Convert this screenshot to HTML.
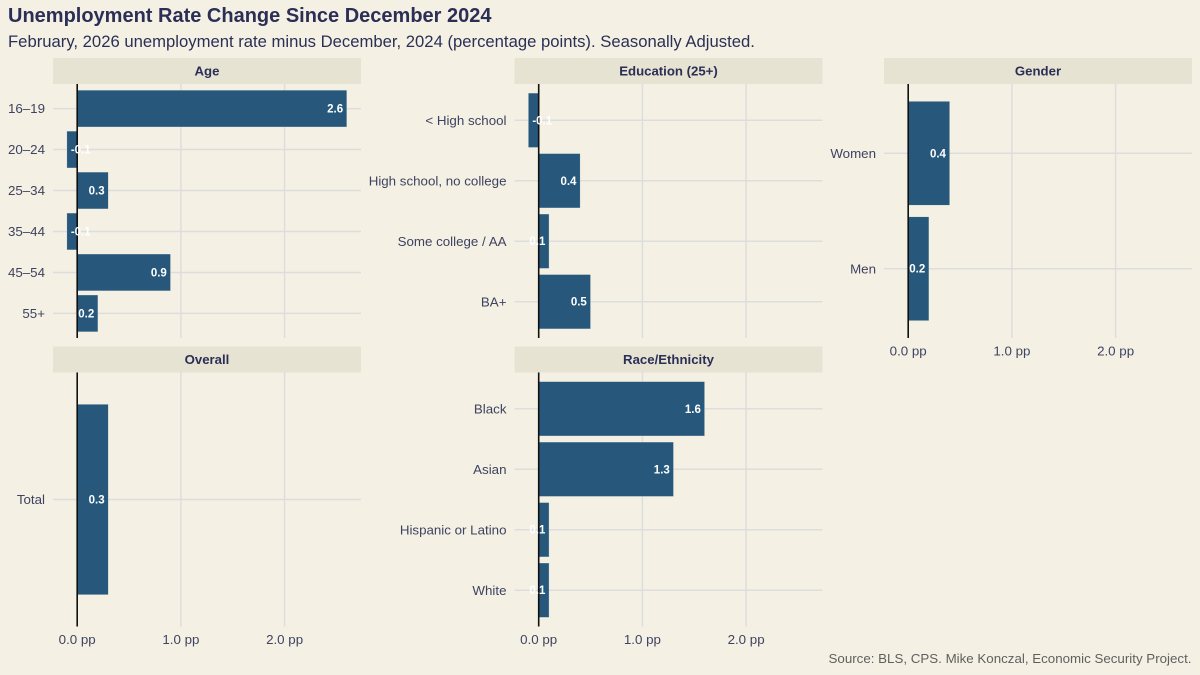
<!DOCTYPE html>
<html lang="en">
<head>
<meta charset="utf-8">
<title>Unemployment Rate Change Since December 2024</title>
<style>
html,body{margin:0;padding:0;background:#F4F1E4;}
svg{display:block;font-family:"Liberation Sans",Arial,sans-serif;}
</style>
</head>
<body>
<svg id="chart" width="1200" height="675" viewBox="0 0 1200 675" xmlns="http://www.w3.org/2000/svg">
  <rect width="1200" height="675" fill="#F4F1E4"/>
  <text x="8" y="22" font-size="20" font-weight="700" fill="#2B2F55">Unemployment Rate Change Since December 2024</text>
  <text x="8" y="47" font-size="16.67" fill="#2B2F55">February, 2026 unemployment rate minus December, 2024 (percentage points). Seasonally Adjusted.</text>
  <text x="1191.5" y="663" font-size="13.33" text-anchor="end" fill="#5F5F5F">Source: BLS, CPS. Mike Konczal, Economic Security Project.</text>
</svg>
<script>
const ageCategories = ["16–19", "20–24", "25–34", "35–44", "45–54", "55+"];
const ageValues = [2.6, -0.1, 0.3, -0.1, 0.9, 0.2];
const educationCategories = ["< High school", "High school, no college", "Some college / AA", "BA+"];
const educationValues = [-0.1, 0.4, 0.1, 0.5];
const genderCategories = ["Women", "Men"];
const genderValues = [0.4, 0.2];
const overallCategories = ["Total"];
const overallValues = [0.3];
const raceCategories = ["Black", "Asian", "Hispanic or Latino", "White"];
const raceValues = [1.6, 1.3, 0.1, 0.1];
const xTickValues = [0, 1, 2];
const xTickLabels = ["0.0 pp", "1.0 pp", "2.0 pp"];

const NS = "http://www.w3.org/2000/svg";
const svg = document.getElementById("chart");

function make(tag, attrs, parent, txt) {
  const el = document.createElementNS(NS, tag);
  for (const k in attrs) el.setAttribute(k, attrs[k]);
  if (txt !== undefined) el.textContent = txt;
  parent.appendChild(el);
  return el;
}

function drawPanel(title, slug, categories, values, left, top, showTicks) {
  const panelW = 308, panelH = 254, stripH = 26;
  const zeroOffset = 24.2, unit = 103.7;
  const x = v => left + zeroOffset + v * unit;
  const step = panelH / (categories.length - 1 + 1.2);
  const y = i => top + step * (0.6 + i);
  const barH = step * 0.9;

  const g = make("g", {}, svg);
  
  

  const strip = make("rect", {x: left, y: top - stripH, width: panelW, height: stripH, fill: "#E6E3D3"}, g);
  
  

  const stripText = make("text", {x: left + panelW / 2, y: top - stripH / 2 + 4.5, "font-size": 13.2, "font-weight": 700, "text-anchor": "middle", fill: "#2B2F55"}, g, title);
  
  

  xTickValues.forEach((v, i) => {
    const line = make("line", {x1: x(v), x2: x(v), y1: top, y2: top + panelH, stroke: "#DDDDDD", "stroke-width": 1.5}, g);
    
    
    if (showTicks) {
      const tick = make("text", {x: x(v), y: top + panelH + 17.5, "font-size": 13.33, "text-anchor": "middle", fill: "#3F4260"}, g, xTickLabels[i]);
      
      
    }
  });

  categories.forEach((c, i) => {
    const line = make("line", {x1: left, x2: left + panelW, y1: y(i), y2: y(i), stroke: "#DDDDDD", "stroke-width": 1.5}, g);
    
    
    const lab = make("text", {x: left - 8, y: y(i) + 4.6, "font-size": 13.33, "text-anchor": "end", fill: "#3F4260"}, g, c);
    
    
  });

  values.forEach((v, i) => {
    const x0 = Math.min(x(0), x(v));
    const bar = make("rect", {x: x0, y: y(i) - barH / 2, width: Math.abs(x(v) - x(0)), height: barH, fill: "#27587C", stroke: "#F4F1E4", "stroke-width": 0.5, "stroke-opacity": 0.7}, g);
    
    
  });

  const zero = make("line", {x1: x(0), x2: x(0), y1: top, y2: top + panelH, stroke: "#111111", "stroke-width": 1.6}, g);
  
  

  values.forEach((v, i) => {
    const neg = v < 0;
    const label = make("text", {x: neg ? x(v) + 4 : x(v) - 3.7, y: y(i) + 4, "font-size": 11.5, "font-weight": 700, "text-anchor": neg ? "start" : "end", fill: "#FFFFFF"}, g, v.toFixed(1));
    
    
  });
}

drawPanel("Age", "age", ageCategories, ageValues, 53, 84, false);
drawPanel("Education (25+)", "education", educationCategories, educationValues, 514.5, 84, false);
drawPanel("Gender", "gender", genderCategories, genderValues, 884, 84, true);
drawPanel("Overall", "overall", overallCategories, overallValues, 53, 372.5, true);
drawPanel("Race/Ethnicity", "race", raceCategories, raceValues, 514.5, 372.5, true);
</script>
</body>
</html>
